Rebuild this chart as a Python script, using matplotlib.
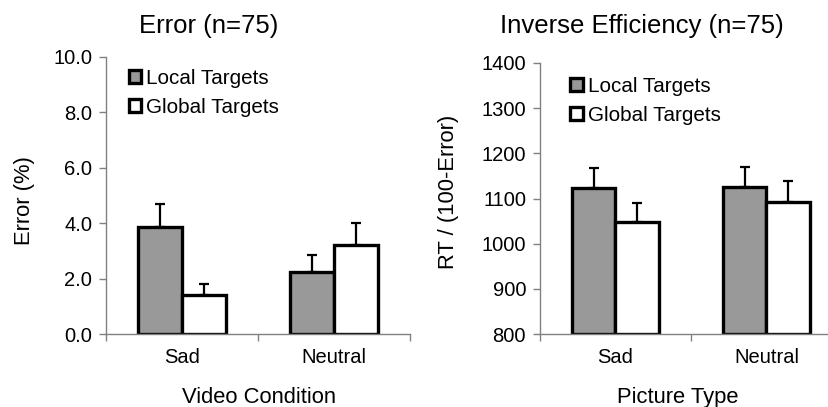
import matplotlib
matplotlib.use("Agg")
import matplotlib.pyplot as plt
from matplotlib.patches import Rectangle

plt.rcParams['font.family'] = ['Liberation Sans', 'DejaVu Sans']

categories = ["Sad", "Neutral"]
series = ["Local Targets", "Global Targets"]

# Error (%)
err_local = [3.85, 2.25]
err_global = [1.4, 3.2]
err_local_se = [0.85, 0.62]
err_global_se = [0.4, 0.8]

# Inverse efficiency
ie_local = [1123, 1125]
ie_global = [1049, 1093]
ie_local_se = [44, 45]
ie_global_se = [42, 46]

colors = ["#999999", "#ffffff"]
W, H = 829, 407
fig = plt.figure(figsize=(W / 100, H / 100), dpi=100)


def panel(rect, local, glob, lse, gse, ylim, yticks, yfmt, leg_anchor):
    ax = fig.add_axes(rect)
    bw = 0.29
    x = [0.5, 1.5]
    for i, (vals, errs) in enumerate([(local, lse), (glob, gse)]):
        xs = [xi + (i - 0.5) * bw for xi in x]
        ax.bar(xs, [v - ylim[0] for v in vals], bottom=ylim[0], width=bw,
               color=colors[i], edgecolor="black", linewidth=2.4, zorder=3,
               label=series[i])
        ax.errorbar(xs, vals, yerr=[[0, 0], errs], fmt="none", ecolor="black",
                    elinewidth=1.6, capsize=3.5, capthick=1.6, zorder=2)
    ax.set_xlim(0, 2)
    ax.set_ylim(*ylim)
    ax.set_yticks(yticks)
    ax.set_yticklabels([yfmt.format(v) for v in yticks], fontsize=14.5)
    ax.set_xticks([0, 1, 2])
    ax.set_xticklabels([])
    ax.set_xticks(x, minor=True)
    ax.set_xticklabels(categories, minor=True, fontsize=14.5)
    ax.tick_params(axis="x", which="major", length=5, color="#808080", width=1)
    ax.tick_params(axis="x", which="minor", length=0, pad=10)
    ax.tick_params(axis="y", length=5, color="#808080", width=1, pad=5)
    for s in ["top", "right"]:
        ax.spines[s].set_visible(False)
    for s in ["left", "bottom"]:
        ax.spines[s].set_color("#808080")
        ax.spines[s].set_linewidth(1)
        ax.spines[s].set_zorder(4)
    handles = [Rectangle((0, 0), 1, 1, facecolor=c, edgecolor="black", linewidth=2.4)
               for c in colors]
    ax.legend(handles, series, loc="upper left", bbox_to_anchor=leg_anchor,
              frameon=False, fontsize=14.9, handlelength=0.6, handleheight=0.6,
              handletextpad=0.25, labelspacing=0.48, borderpad=0, borderaxespad=0)
    return ax


ax1 = panel([106 / W, 73 / H, 304 / W, 277 / H], err_local, err_global,
            err_local_se, err_global_se, (0, 10), [0, 2, 4, 6, 8, 10], "{:.1f}",
            (0.075, 0.958))
ax2 = panel([540 / W, 73 / H, 302 / W, 271 / H], ie_local, ie_global,
            ie_local_se, ie_global_se, (800, 1400), list(range(800, 1401, 100)), "{:d}",
            (0.1, 0.948))

fig.text(209 / W, 1 - 33 / H, "Error (n=75)", fontsize=18.5, ha="center", va="baseline")
fig.text(642 / W, 1 - 33 / H, "Inverse Efficiency (n=75)", fontsize=18.5, ha="center", va="baseline")
fig.text(259 / W, 1 - 403 / H, "Video Condition", fontsize=15.8, ha="center", va="baseline")
fig.text(678 / W, 1 - 403 / H, "Picture Type", fontsize=15.8, ha="center", va="baseline")
fig.text(25 / W, 1 - 201 / H, "Error (%)", fontsize=15.8, ha="center", va="center", rotation=90)
fig.text(449 / W, 1 - 192 / H, "RT / (100-Error)", fontsize=15.8, ha="center", va="center", rotation=90)

fig.savefig("out.png", dpi=100)
